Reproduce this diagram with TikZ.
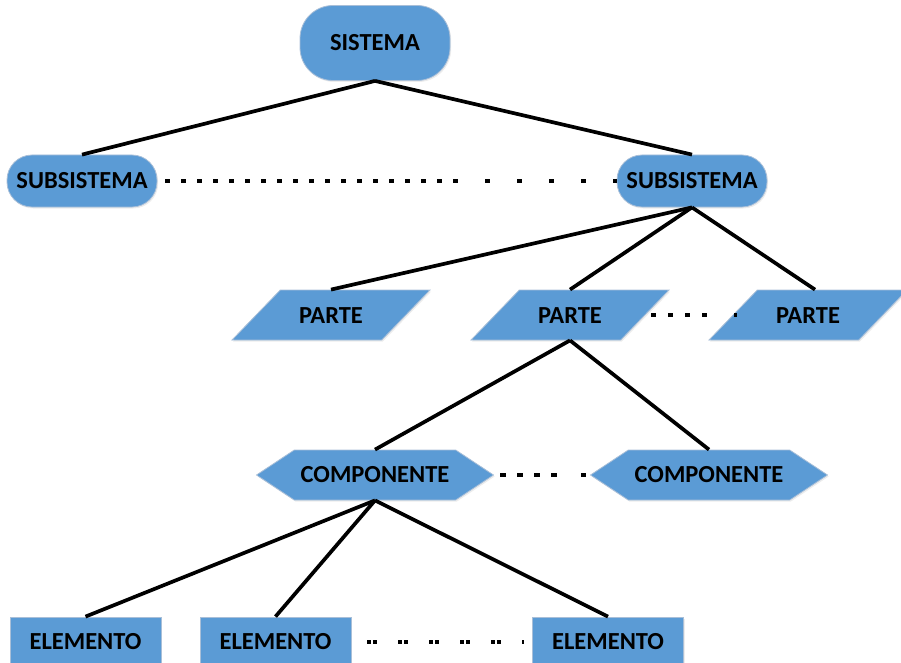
\documentclass[tikz,border=0pt]{standalone}
\usepackage{fontspec}
\setmainfont{Carlito}
\usetikzlibrary{shapes.geometric,shapes.symbols,shadows}
\definecolor{boxblue}{HTML}{5B9BD5}
\definecolor{boxedge}{HTML}{A9BFD8}
\begin{document}
\begin{tikzpicture}[x=1pt,y=-1pt,
  base/.style={fill=boxblue, draw=boxedge, line width=0.8pt, text=black,
    font=\fontsize{24.5}{28}\selectfont\bfseries, inner sep=0pt,
    drop shadow={opacity=0.15, shadow xshift=1.2pt, shadow yshift=-1.5pt, fill=gray}},
  bigpill/.style={base, rectangle, rounded corners=33pt, minimum width=150pt, minimum height=75pt},
  pill/.style={base, rectangle, rounded corners=25pt, minimum width=150pt, minimum height=52pt},
  para/.style={base, trapezium, trapezium left angle=46, trapezium right angle=134,
    trapezium stretches body, text height=16pt, text depth=0pt, inner ysep=17pt, inner xsep=4pt,
    minimum width=198pt},
  hexa/.style={base, signal, signal to=east and west, signal pointer angle=67,
    minimum width=237pt, minimum height=50pt},
  elbox/.style={base, rectangle, minimum width=151pt, minimum height=50pt},
  link/.style={line width=3.7pt, black},
  dots/.style={line width=4.8pt, black}
]
\useasboundingbox (0,0) rectangle (901,663);
\node[bigpill] (sis) at (375,43) {SISTEMA};
\node[pill] (sub1) at (82,181) {SUBSISTEMA};
\node[pill] (sub2) at (692,181) {SUBSISTEMA};
\node[para] (p1) at (331,315) {PARTE};
\node[para] (p2) at (570,315) {PARTE};
\node[para] (p3) at (808,315) {PARTE};
\node[hexa] (c1) at (375,475) {COMPONENTE};
\node[hexa] (c2) at (709,475) {COMPONENTE};
\node[elbox] (e1) at (85.5,642) {ELEMENTO};
\node[elbox] (e2) at (275.5,642) {ELEMENTO};
\node[elbox] (e3) at (608,642) {ELEMENTO};
\coordinate (mid) at (453,181);
% connectors
\draw[link] (sis.south) -- (sub1.north);
\draw[link] (sis.south) -- (sub2.north);
\draw[link] (sub2.south) -- (p1.north);
\draw[link] (sub2.south) -- (p2.north);
\draw[link] (sub2.south) -- ([xshift=7pt]p3.north);
\draw[link] (p2.south) -- (c1.north);
\draw[link] (p2.south) -- (c2.north);
\draw[link] (c1.south) -- (e1.north);
\draw[link] (c1.south) -- (e2.north);
\draw[link] (c1.south) -- (e3.north);
% dotted links
\draw[dots, dash pattern=on 5pt off 11pt] ([xshift=8pt]sub1.east) -- (mid);
\draw[dots, dash pattern=on 5pt off 27pt] (mid) -- (sub2.west);
\draw[dots, dash pattern=on 5pt off 12pt on 5pt off 12pt on 5pt off 12pt on 5pt off 27pt on 5pt off 100pt]
  ([xshift=6pt]p2.east) -- ([xshift=4pt]p3.west);
\draw[dots, dash pattern=on 6pt off 11pt on 6pt off 11pt on 6pt off 11pt on 6pt off 24pt on 7pt off 100pt]
  ([xshift=6pt]c1.east) -- ([xshift=-4pt]c2.west);
\draw[line width=4.8pt, dash pattern=on 4pt off 1.5pt on 4pt off 21.5pt]
  ([xshift=16pt]e2.east) -- ([xshift=-8pt]e3.west);
\end{tikzpicture}
\end{document}
